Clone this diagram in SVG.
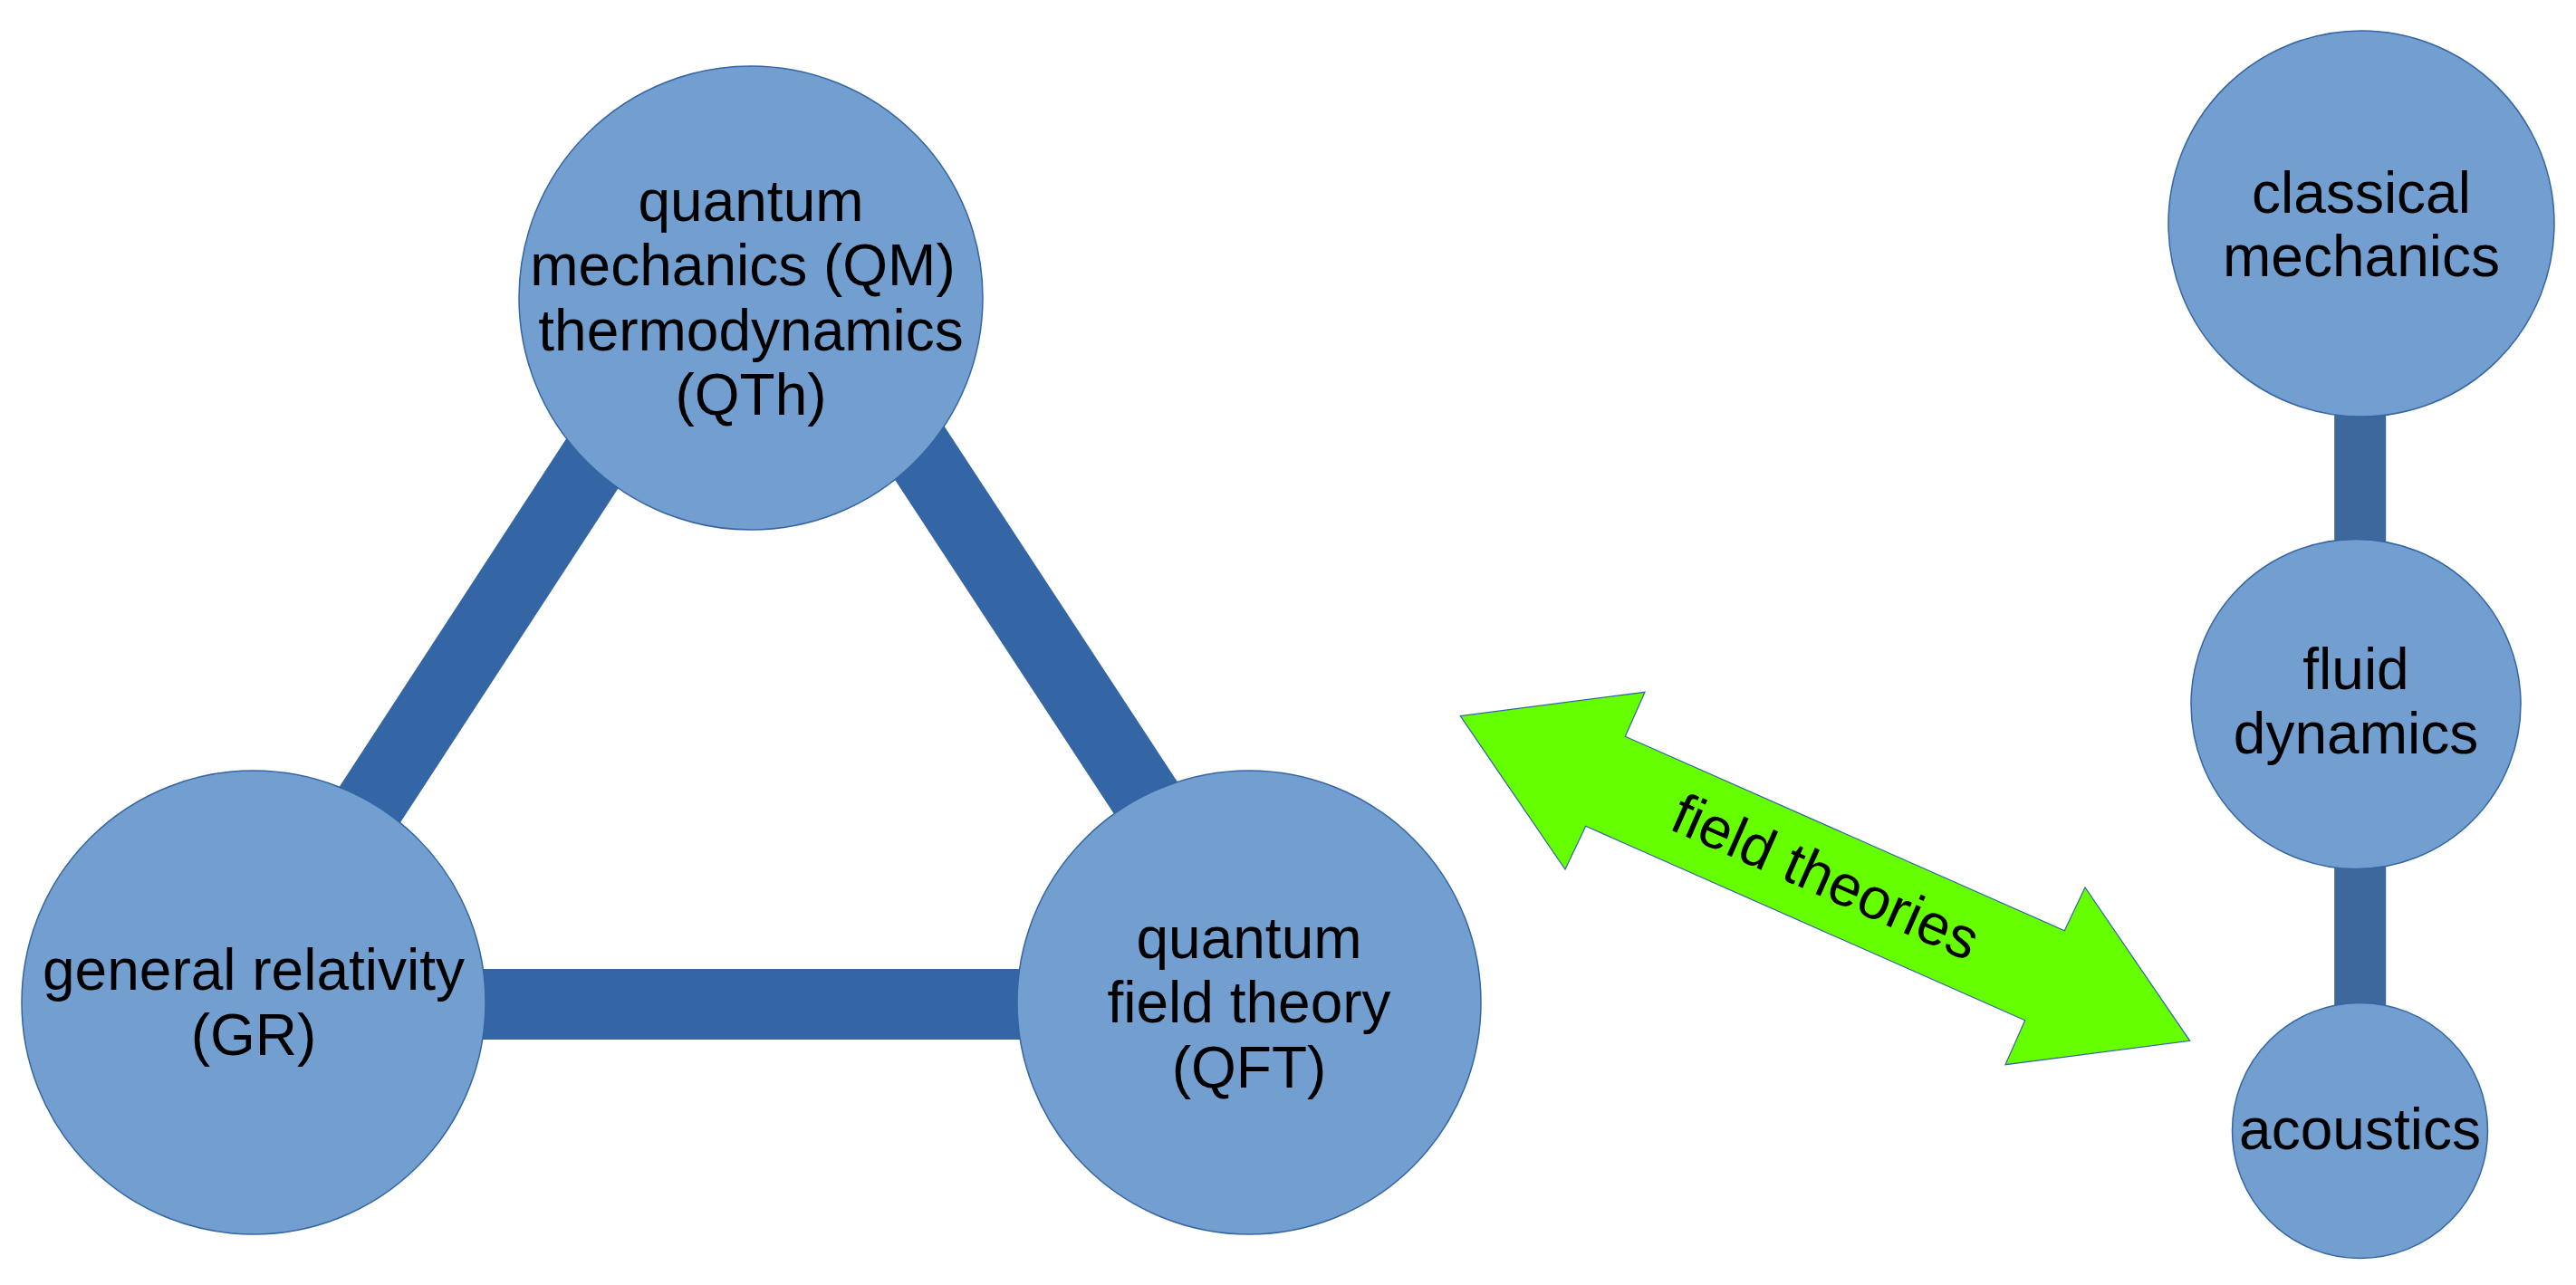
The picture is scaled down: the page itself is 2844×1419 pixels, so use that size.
<svg xmlns="http://www.w3.org/2000/svg" width="2844" height="1419" viewBox="0 0 2844 1419">
<style>
.node{fill:#729fcf;stroke:#3465a4;stroke-width:1.5}
.lbl{font-family:"Liberation Sans",Arial,sans-serif;font-size:64px;fill:#000;text-anchor:middle}
.bar{stroke:#3465a4;stroke-width:78;stroke-linecap:butt;fill:none}
.bar2{stroke:#3d689e;stroke-width:57;stroke-linecap:butt;fill:none}
</style>
<rect width="2844" height="1419" fill="#fff"/>
<g id="connectors">
<line class="bar" x1="773" y1="329" x2="266" y2="1107"/>
<line class="bar" x1="903" y1="329" x2="1413" y2="1107"/>
<line class="bar" x1="280" y1="1109" x2="1379" y2="1109"/>
<line class="bar2" x1="2605.7" y1="247" x2="2605.7" y2="777"/>
<line class="bar2" x1="2605.7" y1="777" x2="2605.7" y2="1248"/>
</g>
<g id="node-qm">
<circle class="node" cx="829" cy="329" r="256"/>
<text class="lbl"><tspan x="829" y="244">quantum</tspan><tspan x="820" y="315">mechanics (QM)</tspan><tspan x="829" y="386.5">thermodynamics</tspan><tspan x="829" y="458">(QTh)</tspan></text>
</g>
<g id="node-gr">
<circle class="node" cx="280" cy="1107" r="256"/>
<text class="lbl"><tspan x="280" y="1093">general relativity</tspan><tspan x="280" y="1164.5">(GR)</tspan></text>
</g>
<g id="node-qft">
<circle class="node" cx="1379" cy="1107" r="256"/>
<text class="lbl"><tspan x="1379" y="1057.5">quantum</tspan><tspan x="1379" y="1129">field theory</tspan><tspan x="1379" y="1200.5">(QFT)</tspan></text>
</g>
<g id="node-classical">
<circle class="node" cx="2607" cy="247" r="213"/>
<text class="lbl"><tspan x="2607" y="235">classical</tspan><tspan x="2607" y="305">mechanics</tspan></text>
</g>
<g id="node-fluid">
<circle class="node" cx="2601" cy="777.5" r="182"/>
<text class="lbl"><tspan x="2601" y="761">fluid</tspan><tspan x="2601" y="832">dynamics</tspan></text>
</g>
<g id="node-acoustics">
<circle class="node" cx="2605.5" cy="1248.5" r="141"/>
<text class="lbl" x="2605.5" y="1269">acoustics</text>
</g>
<g id="field-theories">
<polygon points="1612.3,790.7 1816,764.3 1794.3,813.3 2279.3,1027.7 2302,980 2417.7,1149.3 2214,1175.7 2235.7,1126.7 1750.7,912.3 1728,960" fill="#66ff00" stroke="#3465a4" stroke-width="1.2"/>
<text class="lbl" transform="translate(2015,970) rotate(23.85)" x="0" y="20">field theories</text>
</g>
</svg>
